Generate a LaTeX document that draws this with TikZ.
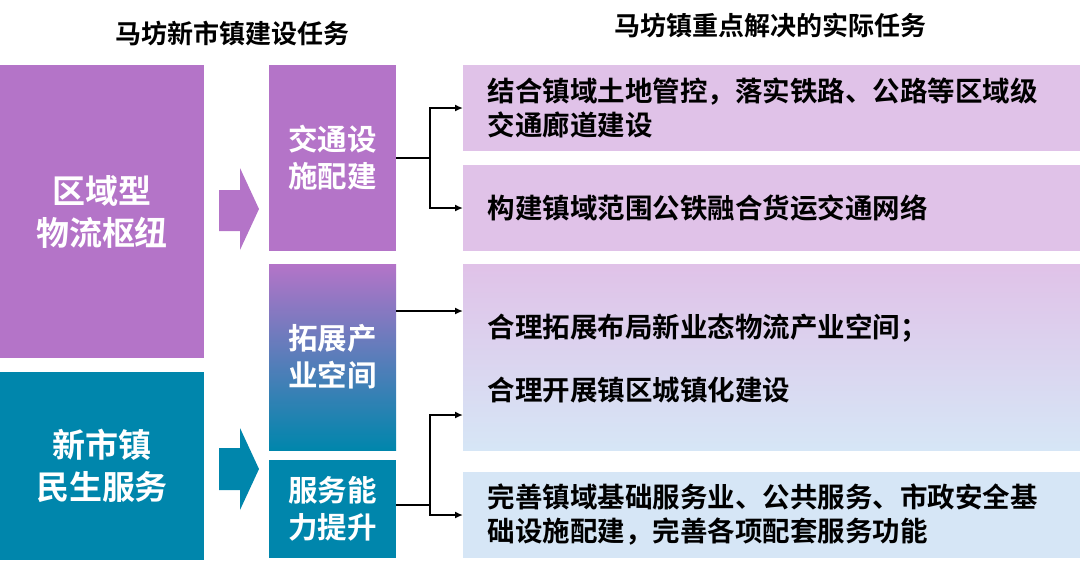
\documentclass[tikz,border=0pt]{standalone}
\usepackage{fontspec}
\newfontfamily\cjk{Noto Sans CJK SC Bold}
\definecolor{pur}{HTML}{B474C8}
\definecolor{tea}{HTML}{0086AC}
\definecolor{lpur}{HTML}{E0C2E8}
\definecolor{lblu}{HTML}{D6E6F6}
\begin{document}
\begin{tikzpicture}[x=1pt,y=-1pt,
  big/.style={font=\cjk\fontsize{33}{42}\selectfont,text=white,align=center},
  mid/.style={font=\cjk\fontsize{29.5}{37}\selectfont,text=white,align=center},
  rt/.style={font=\cjk\fontsize{27.5}{34}\selectfont,text=black,align=left,anchor=west},
  hd/.style={font=\cjk\fontsize{26}{30}\selectfont,text=black},
  con/.style={line width=2pt,-{Latex[length=8pt,width=7pt]}},
  ln/.style={line width=2pt}]
\usetikzlibrary{arrows.meta}
\useasboundingbox (0,0) rectangle (1080,566);
\node[hd] (h1) at (232,33) {马坊新市镇建设任务};
\node[hd] (h2) at (770,25) {马坊镇重点解决的实际任务};
% left
\fill[pur] (0,65) rectangle (204,358);
\node[big] (L1) at (102,212) {区域型\\物流枢纽};
\fill[tea] (0,372) rectangle (204,560);
\node[big] (L2) at (102,466) {新市镇\\民生服务};
% arrows
\fill[pur] (219,190) -- (240,190) -- (240,168) -- (259,209) -- (240,250) -- (240,231) -- (219,231) -- cycle;
\fill[tea] (219,448) -- (240,448) -- (240,428) -- (259,469) -- (240,510) -- (240,490) -- (219,490) -- cycle;
% middle
\fill[pur] (269,65) rectangle (396,251);
\node[mid] (M1) at (332.5,158) {交通设\\施配建};
\shade[top color=pur,bottom color=tea,middle color=pur!50!tea] (269,264) rectangle (396,450);
\node[mid] (M2) at (332.5,357) {拓展产\\业空间};
\fill[tea] (269,460) rectangle (396,558);
\node[mid] (M3) at (332.5,509) {服务能\\力提升};
% right
\fill[lpur] (463,65) rectangle (1080,151);
\fill[lpur] (463,165) rectangle (1080,251);
\shade[top color=lpur,bottom color=lblu] (463,264) rectangle (1080,450);
\fill[lblu] (463,472) rectangle (1080,558);
\node[rt] (R1) at (484,108) {结合镇域土地管控，落实铁路、公路等区域级\\交通廊道建设};
\node[rt] (R2) at (484,208) {构建镇域范围公铁融合货运交通网络};
\node[rt] (R3a) at (484,328) {合理拓展布局新业态物流产业空间；};
\node[rt] (R3b) at (484,390) {合理开展镇区城镇化建设};
\node[rt] (R4) at (484,515) {完善镇域基础服务业、公共服务、市政安全基\\础设施配建，完善各项配套服务功能};
% connectors
\coordinate (a0) at (396,158); \coordinate (a1) at (430,158);
\coordinate (t1) at (463,108); \coordinate (t2) at (463,208);
\draw[ln] (a0) -- (a1);
\draw[con] (a1) |- (t1);
\draw[con] (a1) |- (t2);
\coordinate (b0) at (396,311); \coordinate (t3) at (463,311);
\draw[con] (b0) -- (t3);
\coordinate (c0) at (396,505); \coordinate (c1) at (430,505);
\coordinate (t4) at (463,415); \coordinate (t5) at (463,515);
\draw[ln] (c0) -- (c1);
\draw[con] (c1) |- (t4);
\draw[con] (c1) |- (t5);
\end{tikzpicture}
\end{document}
